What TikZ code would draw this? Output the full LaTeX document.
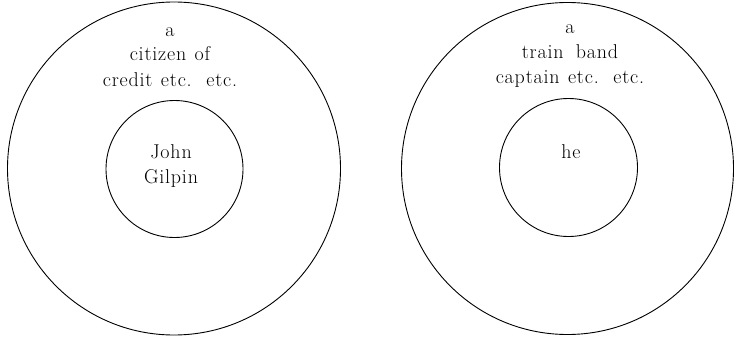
\documentclass[tikz,border=0pt]{standalone}
\usepackage{fontspec}
\setmainfont{Latin Modern Roman}[LetterSpace=4]
\newcommand\lblfnt{\fontsize{20}{25}\selectfont\spaceskip=0.42em\relax}
\begin{document}
\begin{tikzpicture}[x=1pt,y=-1pt,
  ring/.style={circle,draw,line width=0.9pt,inner sep=0pt},
  lbl/.style={font=\lblfnt,align=center,inner sep=0pt}]
\useasboundingbox (0,0) rectangle (734,337);
\node[ring,minimum size=333pt] (LO) at (174,168.5) {};
\node[ring,minimum size=137pt] (LI) at (174.5,169) {};
\node[ring,minimum size=332pt] (RO) at (567.5,168.5) {};
\node[ring,minimum size=138pt] (RI) at (568.5,167.5) {};
\node[lbl,anchor=base] (t1) at (170,37) {a};
\node[lbl,anchor=base] (t2) at (170,61) {citizen of};
\node[lbl,anchor=base] (t3) at (170,86) {credit etc.\hspace{4pt} etc.};
\node[lbl,anchor=base] (t4) at (171,158) {John};
\node[lbl,anchor=base] (t5) at (171,183) {Gilpin};
\node[lbl,anchor=base] (r1) at (570,34) {a};
\node[lbl,anchor=base] (r2) at (570,59) {train\hspace{4pt} band};
\node[lbl,anchor=base] (r3) at (570,84) {captain etc.\hspace{4pt} etc.};
\node[lbl,anchor=base] (r4) at (571,158) {he};
\end{tikzpicture}
\end{document}
